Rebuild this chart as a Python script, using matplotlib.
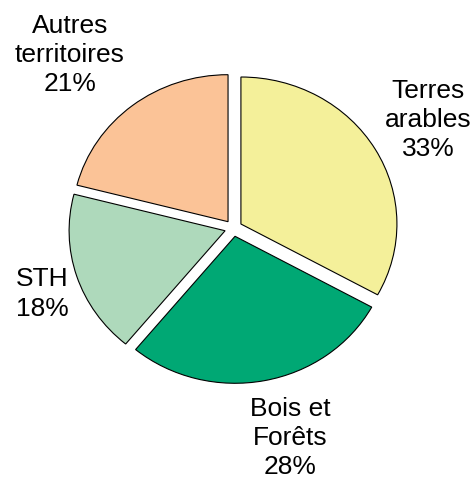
import matplotlib
matplotlib.use("Agg")
import matplotlib.pyplot as plt

categories = ["Terres\narables", "Bois et\nForêts", "STH", "Autres\nterritoires"]
values = [33, 28, 18, 21]
colors = ["#F4F09A", "#00A874", "#AED9BB", "#FBC397"]

W, H = 476, 482
plt.rcParams['font.family'] = ['Liberation Sans', 'DejaVu Sans']
fig = plt.figure(figsize=(W / 100, H / 100), dpi=100)

# pie geometry in pixels
Cx, Cy = 233.4, 228.2
rx, ry = 156.0, 147.0

ax = fig.add_axes([0, 0, 1, 1])
wedges, _ = ax.pie(values, colors=colors, startangle=90, counterclock=False,
                   explode=[0.056] * len(values), radius=1,
                   wedgeprops=dict(edgecolor="black", linewidth=0.8))
ax.set_aspect('auto')
ax.set_xlim(-Cx / rx, (W - Cx) / rx)
ax.set_ylim((Cy - H) / ry, Cy / ry)
ax.axis('off')

label_pos = [(428, 120), (290, 438), (42, 294), (70, 55)]
for cat, v, (lx, ly) in zip(categories, values, label_pos):
    fig.text(lx / W, 1 - ly / H, f"{cat}\n{v}%", ha='center', va='center',
             ma='center', fontsize=19, linespacing=1.28)

fig.savefig("out.png", dpi=100)
